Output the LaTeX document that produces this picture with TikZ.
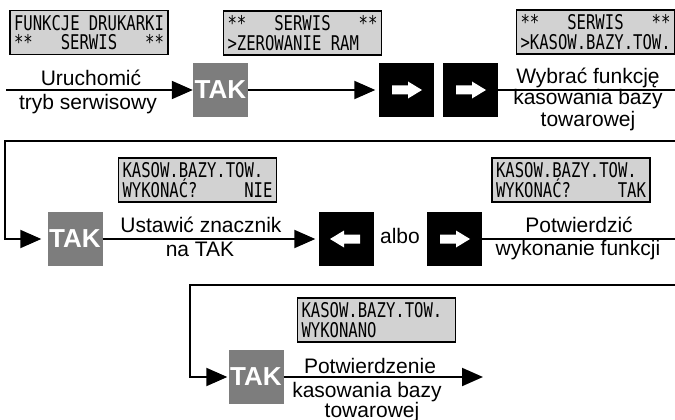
\documentclass[tikz,border=0pt]{standalone}
\usepackage{fontspec}
\usepackage{graphicx}
\setmainfont{Liberation Sans}
\newfontfamily\lcdfont{DejaVu Sans Mono}
\usetikzlibrary{arrows.meta}
\definecolor{lcdgray}{RGB}{210,210,210}
\definecolor{takgray}{RGB}{125,125,125}
\newcommand\lcdtxt[2]{\scalebox{1}[1.3]{\parbox{150pt}{\lcdfont\fontsize{15.6}{14.8}\selectfont\hbox to 150pt{#1}\par\hbox to 150pt{#2}}}}
\newcommand\whiteright[1]{\fill[white] ([shift={(-14,-4.5)}]#1.center) -- ([shift={(2,-4.5)}]#1.center) -- ([shift={(2,-8.5)}]#1.center) -- ([shift={(16,0)}]#1.center) -- ([shift={(2,8.5)}]#1.center) -- ([shift={(2,4.5)}]#1.center) -- ([shift={(-14,4.5)}]#1.center) -- cycle;}
\newcommand\whiteleft[1]{\fill[white] ([shift={(14,-4.5)}]#1.center) -- ([shift={(-2,-4.5)}]#1.center) -- ([shift={(-2,-8.5)}]#1.center) -- ([shift={(-16,0)}]#1.center) -- ([shift={(-2,8.5)}]#1.center) -- ([shift={(-2,4.5)}]#1.center) -- ([shift={(14,4.5)}]#1.center) -- cycle;}
\tikzset{
  lcd/.style={draw=black, line width=1.8pt, fill=lcdgray, minimum width=158pt, minimum height=44pt, inner sep=0pt},
  takbox/.style={fill=takgray, minimum width=55pt, minimum height=54pt, inner sep=0pt, text=white, font=\fontsize{26}{26}\selectfont\bfseries},
  keybox/.style={fill=black, minimum width=55pt, minimum height=54pt, inner sep=0pt},
  conn/.style={line width=2pt, draw=black},
  arr/.style={-{Triangle[length=21pt,width=18pt]}},
  lbl/.style={anchor=base, inner sep=0pt, font=\fontsize{21}{21}\selectfont}
}
\begin{document}
\begin{tikzpicture}[x=1pt,y=-1pt]
\useasboundingbox (0,0) rectangle (675,420);
% LCD displays
\node[lcd] (lcd1) at (89,32.5) {\lcdtxt{FUNKCJE DRUKARKI}{**\hfill SERWIS\hfill **}};
\node[lcd] (lcd2) at (302.5,33) {\lcdtxt{**\hfill SERWIS\hfill **}{>ZEROWANIE RAM\hfill}};
\node[lcd] (lcd3) at (595.5,32) {\lcdtxt{**\hfill SERWIS\hfill **}{>KASOW.BAZY.TOW.\hfill}};
\node[lcd] (lcd4) at (197.5,180) {\lcdtxt{KASOW.BAZY.TOW.\hfill}{WYKONAĆ?\hfill NIE}};
\node[lcd] (lcd5) at (571,180) {\lcdtxt{KASOW.BAZY.TOW.\hfill}{WYKONAĆ?\hfill TAK}};
\node[lcd] (lcd6) at (376.5,320) {\lcdtxt{KASOW.BAZY.TOW.\hfill}{WYKONANO\hfill}};
% keys
\node[takbox] (tak1) at (220.5,90) {TAK};
\node[keybox] (b1) at (406,90) {};
\node[keybox] (b2) at (470,90) {};
\node[takbox] (tak2) at (75,239) {TAK};
\node[keybox] (b3) at (346,239) {};
\node[keybox] (b4) at (454,239) {};
\node[takbox] (tak3) at (256,377) {TAK};
\whiteright{b1}
\whiteright{b2}
\whiteleft{b3}
\whiteright{b4}
% coordinates
\coordinate (start) at (6,90);
\coordinate (r1out) at (675,90);
\coordinate (r2in) at (675,141);
\coordinate (r2corner) at (5,141);
\coordinate (r2out) at (675,239);
\coordinate (r3in) at (675,285);
\coordinate (r3corner) at (190,285);
\coordinate (finish) at (483,377);
% connectors
\draw[conn,arr] (start) -- (tak1.west);
\draw[conn,arr,shorten >=3pt] (tak1.east) -- (b1.west);
\draw[conn] (b2.east) -- (r1out);
\draw[conn,arr,shorten >=6pt] (r2in) -- (r2corner) |- (tak2.west);
\draw[conn,arr,shorten >=3pt] (tak2.east) -- (b3.west);
\draw[conn] (b4.east) -- (r2out);
\draw[conn,arr,shorten >=1pt] (r3in) -- (r3corner) |- (tak3.west);
\draw[conn,arr] (tak3.east) -- (finish);
% labels
\node[lbl] (l1a) at (91,85) {Uruchomić};
\node[lbl] (l1b) at (88,110) {tryb serwisowy};
\node[lbl] (l2a) at (588,84) {Wybrać funkcję};
\node[lbl] (l2b) at (588,105) {kasowania bazy};
\node[lbl] (l2c) at (588,126) {towarowej};
\node[lbl] (l3a) at (201,232) {Ustawić znacznik};
\node[lbl] (l3b) at (200,256) {na TAK};
\node[lbl] (albo) at (400,243) {albo};
\node[lbl] (l4a) at (579,232) {Potwierdzić};
\node[lbl] (l4b) at (578,255) {wykonanie funkcji};
\node[lbl] (l5a) at (370,373) {Potwierdzenie};
\node[lbl] (l5b) at (367,397) {kasowania bazy};
\node[lbl] (l5c) at (372,417) {towarowej};
\end{tikzpicture}
\end{document}
